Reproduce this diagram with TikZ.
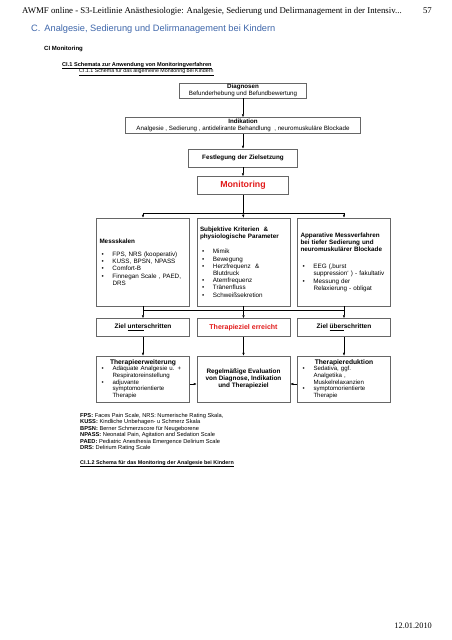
\documentclass[tikz,border=0pt]{standalone}
\usepackage{fontspec}
\setmainfont{Liberation Sans}
\newfontfamily\timesfont{Liberation Serif}
\usetikzlibrary{arrows.meta,positioning}

\definecolor{headblue}{RGB}{62,102,170}
\definecolor{alarmred}{RGB}{225,25,25}

\newcommand{\fsz}[2]{\fontsize{#1}{#2}\selectfont}
\newcommand{\pkt}[1]{\par\hangindent=13pt\hangafter=1\noindent\makebox[13pt][l]{\hspace{2pt}\textbullet}#1\par}
\newcommand{\abk}[2]{\textbf{#1:} #2}

\begin{document}
\begin{tikzpicture}[x=1pt, y=-1pt, node distance=7pt,
    >={Latex[length=3pt,width=2.4pt]},
    txt/.style={inner sep=0pt, anchor=base west},
    box/.style={draw=black!60, line width=0.5pt, inner xsep=3pt, inner ysep=1pt,
      align=center, font=\fsz{6.2}{6.8}},
    wide/.style={box, text width=87pt, align=left, minimum height=88pt, font=\fsz{6.3}{7.2}},
    zielbox/.style={box, minimum width=93pt, minimum height=18pt, font=\bfseries\fsz{6.5}{7}},
    unten/.style={box, text width=87pt, align=left, minimum height=46pt, inner ysep=0pt, font=\fsz{6.1}{6.6}}]
  \useasboundingbox (0,0) rectangle (452,640);

  % Kopfzeile
  \node[txt, font=\timesfont\fsz{8.8}{10}] (kopf) at (22,13)
    {AWMF online - S3-Leitlinie Anästhesiologie: Analgesie, Sedierung und Delirmanagement in der Intensiv...};
  \node[txt, anchor=base east, font=\timesfont\fsz{8.8}{10}] (seite) at (432,13) {57};
  \node[txt, text=headblue, font=\fsz{9.25}{11}] (kapitel) at (31,31)
    {C.\hspace{4pt}Analgesie, Sedierung und Delirmanagement bei Kindern};
  \node[txt, font=\bfseries\fsz{6}{7}] (abschnitt) at (44,50) {CI Monitoring};
  \node[txt, font=\bfseries\fsz{5.6}{6}] (schemata) at (62,66)
    {\underline{CI.1 Schemata zur Anwendung von Monitoringverfahren}};
  \node[txt, font=\fsz{5.3}{6}] (schema1) at (79,72.5)
    {\underline{CI.1.1 Schema für das allgemeine Monitoring bei Kindern}};

  % obere Kette
  \node[box, minimum width=127pt, minimum height=15pt, inner ysep=0.5pt] (diag) at (243,90.5)
    {\textbf{Diagnosen}\\Befunderhebung und Befundbewertung};
  \node[box, minimum width=235pt, minimum height=16pt, inner ysep=0.5pt, below=19pt of diag] (ind)
    {\textbf{Indikation}\\Analgesie , Sedierung , antidelirante Behandlung~ , neuromuskuläre Blockade};
  \node[box, minimum width=109pt, minimum height=18pt, below=15pt of ind,
    font=\bfseries\fsz{6.3}{7}] (festl) {Festlegung der Zielsetzung};
  \node[box, minimum width=91pt, minimum height=18pt, below=9pt of festl,
    text=alarmred, font=\bfseries\fsz{8.8}{9}] (moni) {Monitoring};

  % Messverfahren
  \node[wide] (mess) at (143,262)
    {\textbf{Messskalen}\par\vspace{6pt}
     \pkt{FPS, NRS (kooperativ)}
     \pkt{KUSS, BPSN, NPASS}
     \pkt{Comfort-B}
     \pkt{Finnegan Scale , PAED,\newline DRS}};
  \node[wide, right=of mess] (krit)
    {\textbf{Subjektive Kriterien~ \&\\physiologische Parameter}\par\vspace{8pt}
     \pkt{Mimik}
     \pkt{Bewegung}
     \pkt{Herzfrequenz~ \&\newline Blutdruck}
     \pkt{Atemfrequenz}
     \pkt{Tränenfluss}
     \pkt{Schweißsekretion}};
  \node[wide, right=of krit] (appar)
    {\textbf{Apparative Messverfahren\\bei tiefer Sedierung und\\neuromuskulärer Blockade}\par\vspace{10pt}
     \pkt{EEG (‚burst\newline suppression‘ ) - fakultativ}
     \pkt{Messung der\newline Relaxierung - obligat}};

  % Zielbewertung
  \node[zielbox, below=12pt of mess] (unter) {Ziel \underline{unter}schritten};
  \node[zielbox, below=12pt of krit, text=alarmred, font=\bfseries\fsz{7}{8}] (erreicht) {Therapieziel erreicht};
  \node[zielbox, below=12pt of appar] (ueber) {Ziel \underline{über}schritten};

  % Massnahmen
  \node[unten, below=19pt of unter] (erw)
    {\makebox[\linewidth]{\bfseries\fsz{6.7}{6.8}Therapieerweiterung}
     \pkt{Adäquate Analgesie u. +\newline Respiratoreinstellung}
     \pkt{adjuvante\newline symptomorientierte\newline Therapie}};
  \node[box, minimum width=93pt, minimum height=46pt, below=19pt of erreicht,
    font=\bfseries\fsz{6.4}{6.8}] (eval)
    {Regelmäßige Evaluation\\von Diagnose, Indikation\\und Therapieziel};
  \node[unten, below=19pt of ueber] (red)
    {\makebox[\linewidth]{\bfseries\fsz{6.7}{6.8}Therapiereduktion}
     \pkt{Sedativa, ggf.\newline Analgetika ,\newline Muskelrelaxanzien}
     \pkt{symptomorientierte\newline Therapie}};

  % Verbindungen
  \draw (diag) edge[->] (ind)
        (ind) edge[->] (festl)
        (festl) edge[->] (moni);
  \coordinate[below=18pt of moni] (gabel);
  \draw (moni.south) -- (gabel);
  \draw[->] (gabel) -| (mess.north);
  \draw[->] (gabel) -- (krit.north);
  \draw[->] (gabel) -| (appar.north);
  \coordinate[below=4pt of krit] (sammel);
  \draw (mess.south |- sammel) -- (appar.south |- sammel);
  \draw[->] (mess) -- (unter);
  \draw[->] (krit) -- (erreicht);
  \draw[->] (appar) -- (ueber);
  \draw[->] (unter) -- (erw);
  \draw[->] (erreicht) -- (eval);
  \draw[->] (ueber) -- (red);
  \draw[->] ([yshift=-5pt]erw.east) -- ([yshift=-5pt]eval.west);
  \draw[->] ([yshift=-5pt]red.west) -- ([yshift=-5pt]eval.east);

  % Abkuerzungen
  \node[txt, align=left, anchor=north west, font=\fsz{5.7}{6.5}] (legende) at (80,413)
    {\abk{FPS}{Faces Pain Scale, NRS: Numerische Rating Skala,}\\
     \abk{KUSS}{Kindliche Unbehagen- u Schmerz Skala}\\
     \abk{BPSN}{Berner Schmerzscore für Neugeborene}\\
     \abk{NPASS}{Neonatal Pain, Agitation and Sedation Scale}\\
     \abk{PAED}{Pediatric Anesthesia Emergence Delirium Scale}\\
     \abk{DRS}{Delirium Rating Scale}};
  \node[txt, font=\bfseries\fsz{5.4}{6.5}] (schema2) at (80,464)
    {\underline{CI.1.2 Schema für das Monitoring der Analgesie bei Kindern}};

  \node[txt, anchor=base east, font=\timesfont\fsz{8.3}{10}] (datum) at (432,628) {12.01.2010};
\end{tikzpicture}
\end{document}
